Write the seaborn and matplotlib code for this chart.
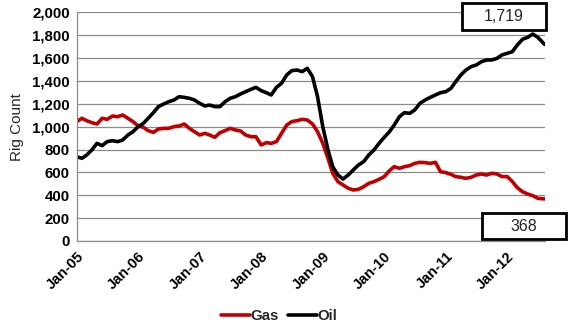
import matplotlib
matplotlib.use("Agg")
import matplotlib.pyplot as plt
from matplotlib.patches import Rectangle
import numpy as np
import pandas as pd
import seaborn as sns

# Monthly rig counts, Jan 2005 - Jul 2012, plus the latest weekly reading
months = pd.date_range("2005-01-01", "2012-07-01", freq="MS")
latest_date = pd.Timestamp("2012-08-10")

oil = [
    # 2005
    737, 723, 752, 796, 854, 834, 869, 877, 869, 883, 927, 956,
    # 2006
    1000, 1029, 1073, 1122, 1175, 1198, 1218, 1233, 1262, 1256, 1248, 1233,
    # 2007
    1204, 1181, 1189, 1175, 1175, 1218, 1248, 1262, 1286, 1306, 1326, 1344,
    # 2008
    1315, 1297, 1277, 1344, 1379, 1452, 1490, 1495, 1481, 1510, 1437, 1262,
    # 2009
    1000, 796, 650, 577, 542, 577, 621, 665, 694, 752, 796, 854,
    # 2010
    907, 956, 1014, 1087, 1122, 1116, 1146, 1204, 1233, 1256, 1277, 1297,
    # 2011
    1306, 1335, 1393, 1452, 1495, 1525, 1539, 1568, 1583, 1583, 1597, 1627,
    # 2012
    1641, 1656, 1714, 1764, 1781, 1810, 1781,
    1719,
]

gas = [
    # 2005
    1044, 1073, 1052, 1035, 1023, 1073, 1064, 1093, 1087, 1102, 1073, 1044,
    # 2006
    1006, 994, 965, 950, 979, 985, 985, 1000, 1006, 1023, 985, 956,
    # 2007
    927, 942, 927, 907, 947, 965, 985, 971, 962, 927, 912, 912,
    # 2008
    840, 860, 854, 869, 941, 1014, 1044, 1052, 1064, 1058, 1023, 956,
    # 2009
    854, 723, 592, 519, 490, 461, 446, 452, 475, 504, 519, 539,
    # 2010
    563, 615, 650, 636, 650, 659, 679, 688, 685, 679, 688, 606,
    # 2011
    598, 583, 563, 557, 548, 557, 577, 586, 577, 592, 586, 563,
    # 2012
    563, 519, 466, 431, 411, 396, 373,
    368,
]

dates = list(months) + [latest_date]
series_names = ["Gas", "Oil"]
colors = {"Gas": "#C00000", "Oil": "#000000"}
year_ticks = pd.date_range("2005-01-01", "2012-01-01", freq="YS")
y_ticks = list(range(0, 2001, 200))

df = pd.concat([
    pd.DataFrame({"date": dates, "count": gas, "type": "Gas"}),
    pd.DataFrame({"date": dates, "count": oil, "type": "Oil"}),
])

sns.set_theme(style="white")
plt.rcParams["font.family"] = ["Liberation Sans", "DejaVu Sans"]

fig = plt.figure(figsize=(5.7, 3.23), dpi=100)
ax = fig.add_axes([0.1346, 0.2539, 0.8214, 0.708])

sns.lineplot(data=df, x="date", y="count", hue="type", hue_order=series_names,
             palette=colors, linewidth=2.6, ax=ax, legend=False)

ax.set_ylim(0, 2000)
ax.set_xlim(pd.Timestamp("2005-01-01"), pd.Timestamp("2012-08-12"))
ax.set_yticks(y_ticks)
ax.set_yticklabels([f"{v:,}" for v in y_ticks], fontsize=10.8, fontweight="bold")
ax.set_xticks(year_ticks)
ax.set_xticklabels([d.strftime("Jan-%y") for d in year_ticks], rotation=45,
                   ha="right", rotation_mode="anchor", fontsize=10.5,
                   fontweight="bold")
ax.set_xlabel("")
ax.set_ylabel("Rig Count", fontsize=11, labelpad=6)

ax.grid(axis="y", color="#8c8c8c", linewidth=0.9)
ax.set_axisbelow(True)
for side in ("top", "right"):
    ax.spines[side].set_visible(False)
for side in ("left", "bottom"):
    ax.spines[side].set_color("#8c8c8c")
    ax.spines[side].set_linewidth(0.9)
ax.tick_params(axis="both", which="major", direction="out", length=3,
               width=0.9, color="#8c8c8c", pad=2, colors="black")
ax.tick_params(axis="x", pad=3)

# Legend below the plot
handles = [plt.Line2D([], [], color=colors[n], linewidth=2.6) for n in series_names]
leg = fig.legend(handles, series_names, loc="center", bbox_to_anchor=(0.49, 0.022),
                 ncol=2, frameon=False, handlelength=1.9, handletextpad=0.05,
                 columnspacing=0.6, prop={"weight": "bold", "size": 10.8})

# Boxed callouts with the latest readings
def callout(x0, y0, w, h, text):
    fig.patches.append(Rectangle((x0, y0), w, h, transform=fig.transFigure,
                                 facecolor="white", edgecolor="black",
                                 linewidth=2.0, zorder=5))
    fig.text(x0 + w / 2, y0 + h / 2, text, ha="center", va="center",
             fontsize=11.5, zorder=6)

callout(0.8105, 0.907, 0.147, 0.0836, f"{oil[-1]:,}")
callout(0.8456, 0.260, 0.147, 0.0805, f"{gas[-1]:,}")

fig.savefig("out.png", dpi=100)
